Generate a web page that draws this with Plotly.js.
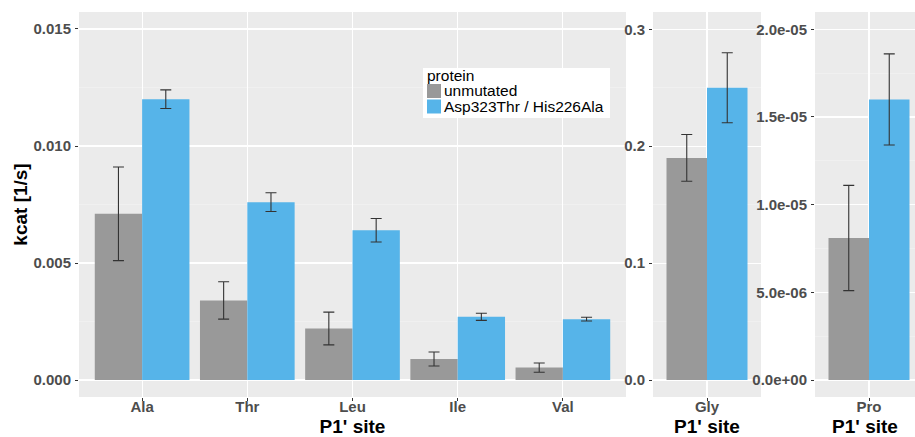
<!DOCTYPE html>
<html><head><meta charset="utf-8">
<script src="https://cdn.plot.ly/plotly-3.0.1.min.js"></script>
<style>html,body{margin:0;padding:0;overflow:hidden;background:#fff}#chart{width:915px;height:437px}</style>
</head><body><div id="chart"></div>
<script>
// ---- data ----
const seriesNames = ["unmutated", "Asp323Thr / His226Ala"];
const legendTitle = "protein";
const sitesMain = ["Ala", "Thr", "Leu", "Ile", "Val"];
const unmutatedMain = [0.0071, 0.0034, 0.0022, 0.0009, 0.00053];
const unmutatedMainErr = [0.0020, 0.0008, 0.0007, 0.0003, 0.0002];
const mutantMain = [0.0120, 0.0076, 0.0064, 0.0027, 0.0026];
const mutantMainErr = [0.0004, 0.0004, 0.0005, 0.00015, 0.00008];
const sitesGly = ["Gly"];
const unmutatedGly = [0.19];
const unmutatedGlyErr = [0.02];
const mutantGly = [0.25];
const mutantGlyErr = [0.03];
const sitesPro = ["Pro"];
const unmutatedPro = [8.1e-6];
const unmutatedProErr = [3.0e-6];
const mutantPro = [1.6e-5];
const mutantProErr = [2.6e-6];
const mainTickVals = [0, 0.005, 0.010, 0.015];
const mainTickText = ["0.000", "0.005", "0.010", "0.015"];
const glyTickVals = [0, 0.1, 0.2, 0.3];
const glyTickText = ["0.0", "0.1", "0.2", "0.3"];
const proTickVals = [0, 5e-6, 1e-5, 1.5e-5, 2e-5];
const proTickText = ["0.0e+00", "5.0e-06", "1.0e-05", "1.5e-05", "2.0e-05"];
const yTitle = "kcat [1/s]";
const xTitle = "P1' site";

// ---- styling / layout ----
const colors = ["#999999", "#56B4E9"];
const FONT = "Liberation Sans, Arial, Helvetica, sans-serif";
const L = 79, T = 12, W = 836, H = 385;
const px = x => (x - L) / W;
const py = y => (T + H - y) / H;

function mids(v) { const o = []; for (let i = 0; i < v.length - 1; i++) o.push((v[i] + v[i + 1]) / 2); return o; }

function err(arr) {
  return {type: "data", array: arr, visible: true, color: "#333333", thickness: 1.1, width: 5.5};
}
function bar(x, y, e, i, xa, ya) {
  return {type: "bar", x: x, y: y, name: seriesNames[i], error_y: err(e),
    marker: {color: colors[i], line: {width: 0}}, xaxis: xa, yaxis: ya,
    showlegend: false, hoverinfo: "skip"};
}
const traces = [
  bar(sitesMain, unmutatedMain, unmutatedMainErr, 0, "x", "y"),
  bar(sitesMain, mutantMain, mutantMainErr, 1, "x", "y"),
  bar(sitesGly, unmutatedGly, unmutatedGlyErr, 0, "x2", "y2"),
  bar(sitesGly, mutantGly, mutantGlyErr, 1, "x2", "y2"),
  bar(sitesPro, unmutatedPro, unmutatedProErr, 0, "x3", "y3"),
  bar(sitesPro, mutantPro, mutantProErr, 1, "x3", "y3")
];

const tickFont = {family: FONT, size: 15, color: "#4D4D4D", weight: 700};
const titleFont = {family: FONT, size: 19, color: "#000000", weight: 700};

function xax(domain, anchor, range, cats) {
  return {domain: domain, anchor: anchor, type: "category", categoryorder: "array", categoryarray: cats,
    range: range, showgrid: true, gridcolor: "#FFFFFF", gridwidth: 1.1, zeroline: false,
    showline: false, ticks: "outside", ticklen: 3, tickwidth: 1, tickcolor: "#333333",
    tickfont: tickFont, ticklabelstandoff: -7, fixedrange: true,
    title: {text: xTitle, font: titleFont, standoff: 12}};
}
function yax(anchor, range, vals, text) {
  return {anchor: anchor, domain: [0, 1], range: range, tickmode: "array", tickvals: vals, ticktext: text,
    showgrid: true, gridcolor: "#FFFFFF", gridwidth: 1.1, zeroline: false, showline: false,
    ticks: "outside", ticklen: 3, tickwidth: 1, tickcolor: "#333333", tickfont: tickFont,
    ticklabelstandoff: 1, fixedrange: true,
    minor: {tickmode: "array", tickvals: mids(vals), showgrid: true, gridcolor: "#F4F4F4", gridwidth: 0.6, ticklen: 0}};
}

const unitMid = 108 / 1.2;
const legShapes = [
  {type: "rect", xref: "paper", yref: "paper", x0: px(423), x1: px(610), y0: py(118), y1: py(68),
   fillcolor: "#FFFFFF", line: {width: 0}},
  {type: "rect", xref: "paper", yref: "paper", x0: px(427), x1: px(441), y0: py(98), y1: py(84),
   fillcolor: colors[0], line: {width: 0}},
  {type: "rect", xref: "paper", yref: "paper", x0: px(427), x1: px(441), y0: py(113.5), y1: py(99.5),
   fillcolor: colors[1], line: {width: 0}}
];
const legFont = {family: FONT, size: 15.5, color: "#000000"};
function legText(x, y, t) {
  return {xref: "paper", yref: "paper", x: px(x), y: py(y), text: t, showarrow: false,
    xanchor: "left", yanchor: "middle", font: legFont, borderpad: 0};
}
const legAnn = [
  legText(426, 75.5, legendTitle),
  legText(443, 91, seriesNames[0]),
  legText(443, 107, seriesNames[1])
];

const yl = yax("x", [-0.000726, 0.015726], mainTickVals, mainTickText);
yl.title = {text: yTitle, font: titleFont, standoff: 0};

const layout = {
  width: 915, height: 437,
  margin: {l: L, r: 915 - L - W, t: T, b: 437 - T - H, pad: 0},
  paper_bgcolor: "#FFFFFF", plot_bgcolor: "#EBEBEB",
  barmode: "group", bargap: 0.1, bargroupgap: 0,
  showlegend: false,
  xaxis: xax([0, px(626)], "y", [-0.6, 4.6], sitesMain),
  yaxis: yl,
  xaxis2: xax([px(653), px(761)], "y2", [-0.6, 0.6], sitesGly),
  yaxis2: yax("x2", [-0.01454, 0.3148], glyTickVals, glyTickText),
  xaxis3: xax([px(815), 1], "y3", [-0.6, -0.6 + 100 / unitMid], sitesPro),
  yaxis3: yax("x3", [-9.69e-7, 2.0987e-5], proTickVals, proTickText),
  shapes: legShapes,
  annotations: legAnn,
  font: {family: FONT}
};

Plotly.newPlot("chart", traces, layout, {displayModeBar: false, staticPlot: true});
</script>
</body></html>
